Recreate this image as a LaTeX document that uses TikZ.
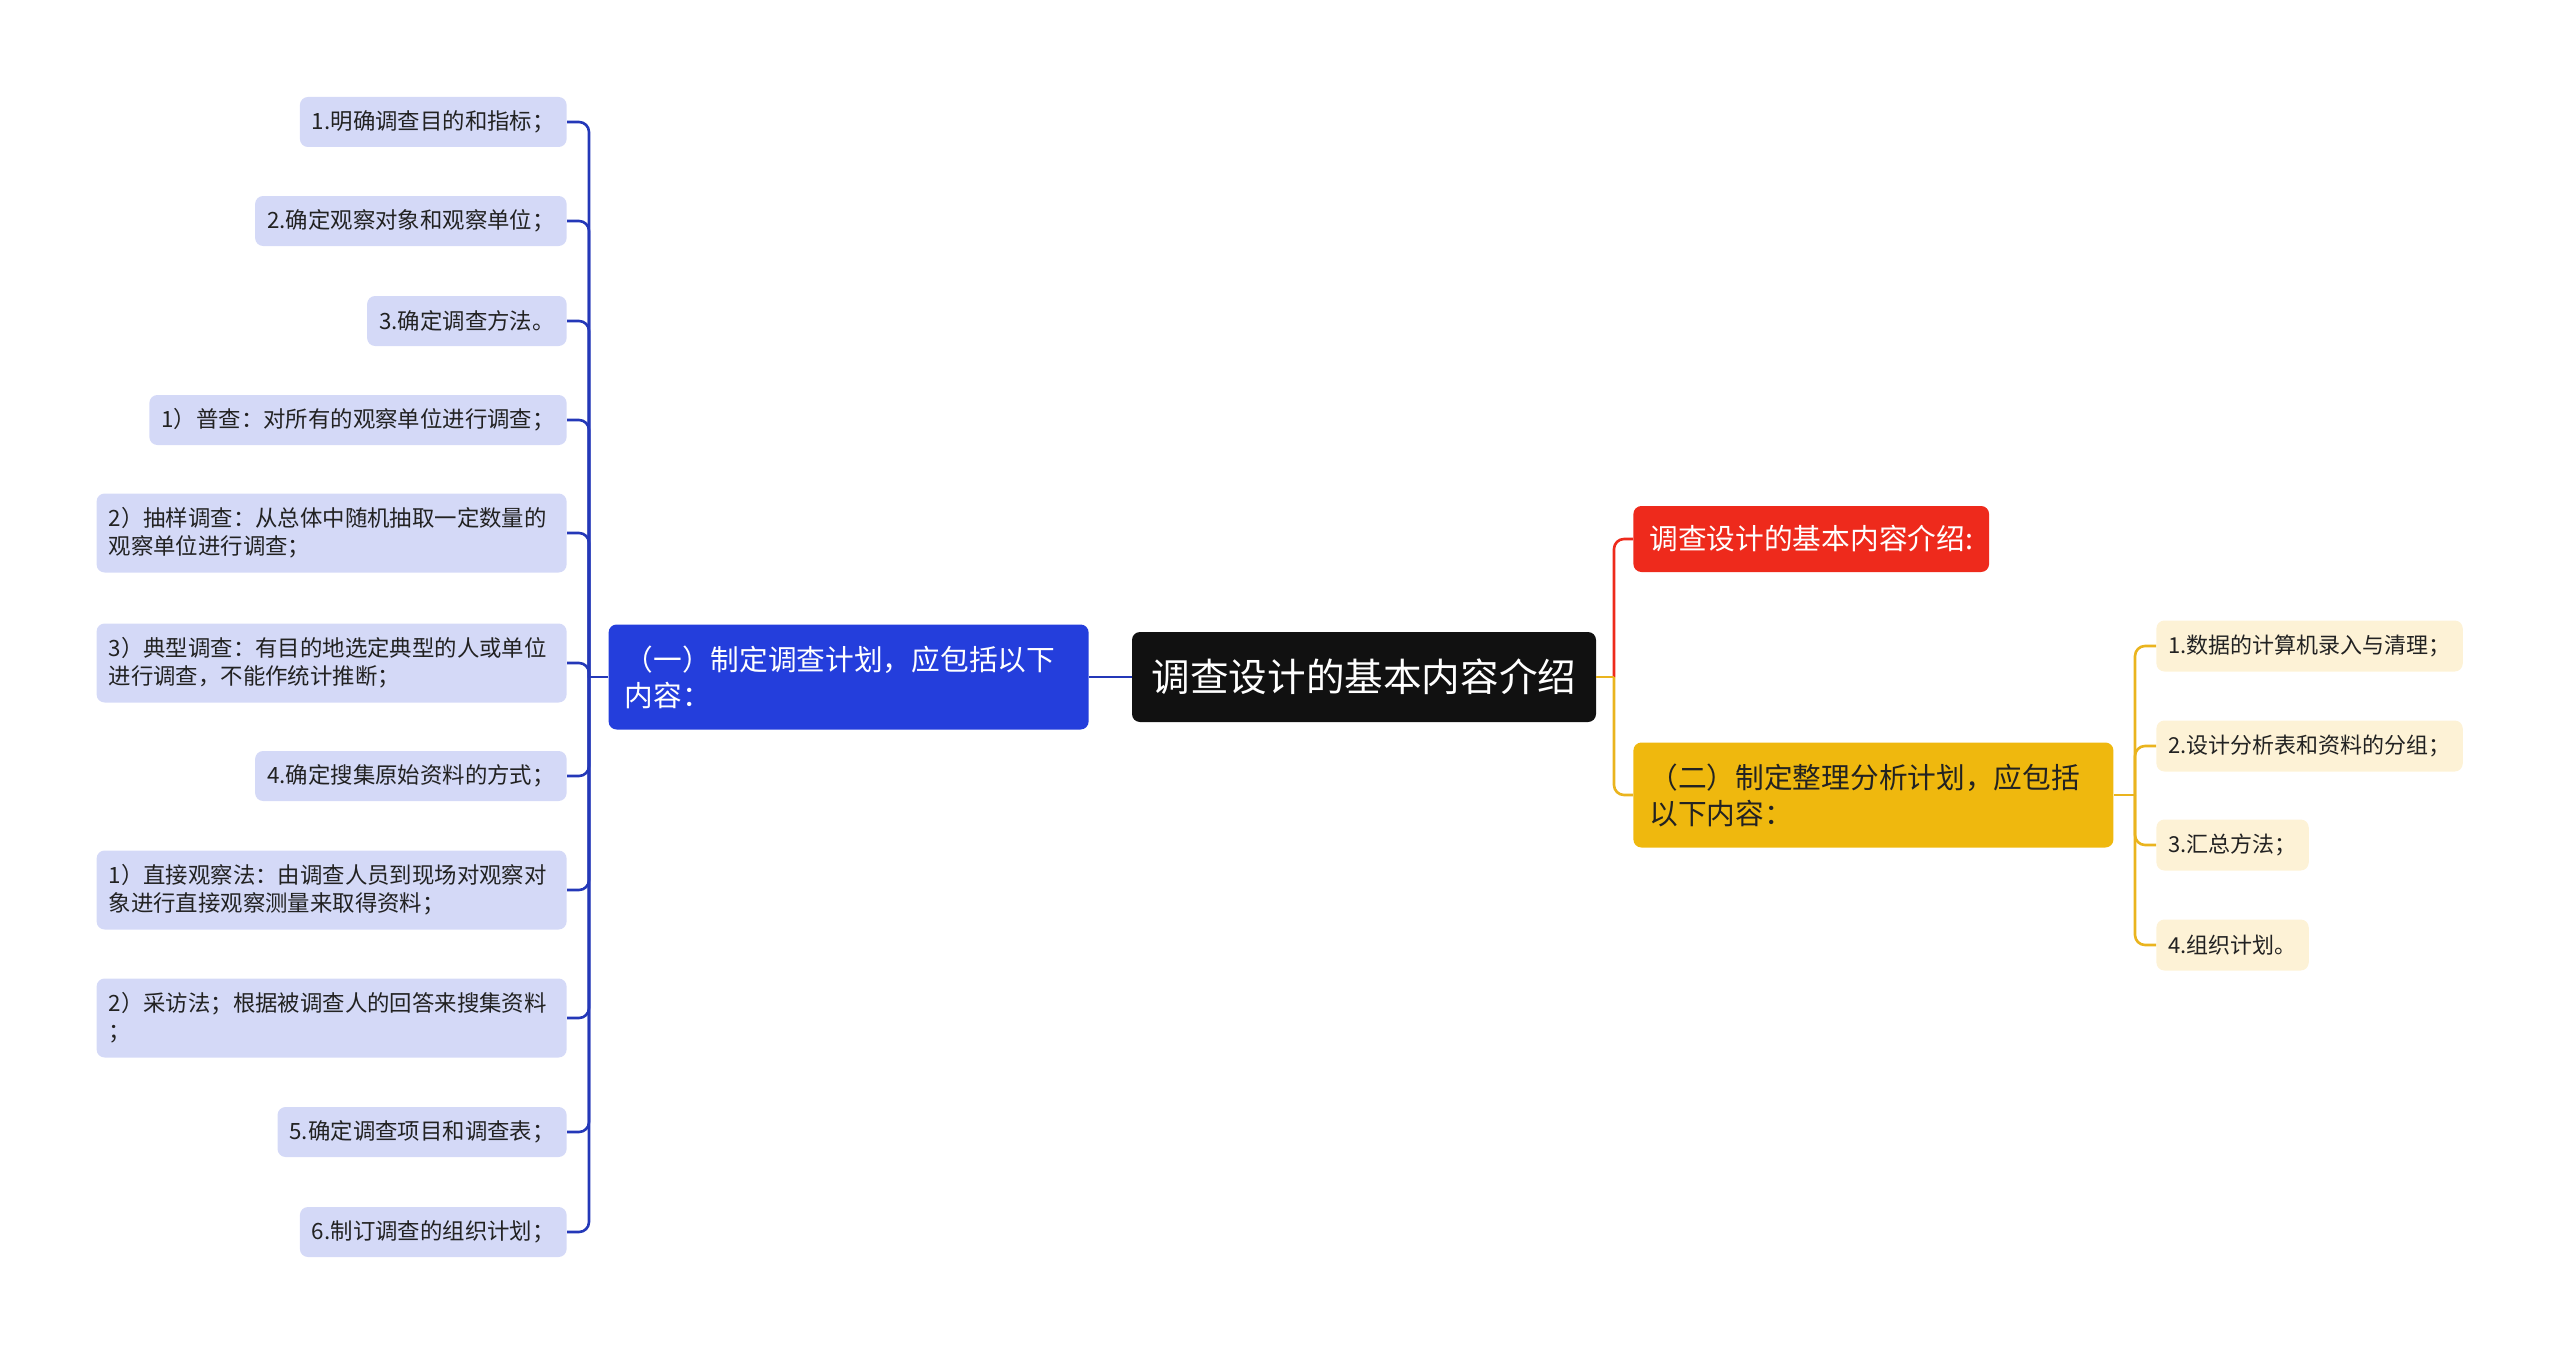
\documentclass[tikz,border=0pt]{standalone}
\usepackage{fontspec}
\setmainfont{Noto Sans CJK SC}
\usepackage{tikz}

\definecolor{rootblack}{RGB}{17,17,17}
\definecolor{planblue}{RGB}{36,62,220}
\definecolor{planlight}{RGB}{212,217,247}
\definecolor{linkblue}{RGB}{36,56,184}
\definecolor{introred}{RGB}{238,42,28}
\definecolor{arryellow}{RGB}{239,184,14}
\definecolor{arrlight}{RGB}{253,242,214}
\definecolor{linkyellow}{RGB}{234,180,30}
\definecolor{leaftext}{RGB}{34,34,34}

\begin{document}
\begin{tikzpicture}[x=0.5pt, y=-0.5pt,
  box/.style={rounded corners=4pt, inner xsep=6pt, inner ysep=0pt},
  leftleaf/.style={box, fill=planlight, text=leaftext, anchor=east,
    font=\fontsize{11.2pt}{14pt}\selectfont, minimum height=25pt},
  leftwide/.style={leftleaf, align=left, text width=223pt, minimum height=39.5pt},
  rightleaf/.style={box, fill=arrlight, text=leaftext, anchor=west,
    font=\fontsize{11pt}{14pt}\selectfont, minimum height=25.5pt},
  branch/.style={box, inner xsep=8pt, align=left, text width=224pt,
    font=\fontsize{14.35pt}{18pt}\selectfont, minimum height=52.5pt},
  bluelink/.style={draw=linkblue, line width=1.3pt, rounded corners=5pt},
  redlink/.style={draw=introred, line width=1.3pt, rounded corners=5pt},
  yellowlink/.style={draw=linkyellow, line width=1.3pt, rounded corners=5pt}]

\useasboundingbox (0,0) rectangle (2560,1354);

% centre
\node[box, fill=rootblack, text=white, font=\fontsize{19.3pt}{23pt}\selectfont,
  minimum width=232pt, minimum height=45pt] (root) at (1364,677) {调查设计的基本内容介绍};

% left branch
\node[branch, fill=planblue, text=white, anchor=east] (plan) at (1089,677)
  {（一）制定调查计划，应包括以下\\内容：};

\node[leftleaf] (goal) at (567,122) {1.明确调查目的和指标；};
\node[leftleaf] (object) at (567,221) {2.确定观察对象和观察单位；};
\node[leftleaf] (method) at (567,321) {3.确定调查方法。};
\node[leftleaf] (census) at (567,420) {1）普查：对所有的观察单位进行调查；};
\node[leftwide] (sample) at (567,533) {2）抽样调查：从总体中随机抽取一定数量的\\观察单位进行调查；};
\node[leftwide] (typical) at (567,663) {3）典型调查：有目的地选定典型的人或单位\\进行调查，不能作统计推断；};
\node[leftleaf] (collect) at (567,776) {4.确定搜集原始资料的方式；};
\node[leftwide] (observe) at (567,890) {1）直接观察法：由调查人员到现场对观察对\\象进行直接观察测量来取得资料；};
\node[leftwide] (interview) at (567,1018) {2）采访法；根据被调查人的回答来搜集资料\\；};
\node[leftleaf] (items) at (567,1132) {5.确定调查项目和调查表；};
\node[leftleaf] (organize) at (567,1232) {6.制订调查的组织计划；};

\coordinate (lj) at (589,677);
\draw[bluelink] (plan.west) -- (root.west -| lj);
\draw[bluelink] (plan.east) -- (root.west);
\draw[bluelink] (lj) |- (goal.east);
\draw[bluelink] (lj) |- (object.east);
\draw[bluelink] (lj) |- (method.east);
\draw[bluelink] (lj) |- (census.east);
\draw[bluelink] (lj) |- (sample.east);
\draw[bluelink] (lj) |- (typical.east);
\draw[bluelink] (lj) |- (collect.east);
\draw[bluelink] (lj) |- (observe.east);
\draw[bluelink] (lj) |- (interview.east);
\draw[bluelink] (lj) |- (items.east);
\draw[bluelink] (lj) |- (organize.east);

% right branch
\node[box, fill=introred, text=white, inner xsep=8pt, anchor=west,
  font=\fontsize{14.35pt}{18pt}\selectfont, minimum height=33pt] (intro) at (1633,539)
  {调查设计的基本内容介绍:};
\node[branch, fill=arryellow, text=leaftext, anchor=west] (arr) at (1633,795)
  {（二）制定整理分析计划，应包括\\以下内容：};

\node[rightleaf] (entry) at (2156,646) {1.数据的计算机录入与清理；};
\node[rightleaf] (tables) at (2156,746) {2.设计分析表和资料的分组；};
\node[rightleaf] (summary) at (2156,845) {3.汇总方法；};
\node[rightleaf] (orgplan) at (2156,945) {4.组织计划。};

\coordinate (rj) at (1614,677);
\draw[redlink] (rj) |- (intro.west);
\draw[yellowlink] (root.east) -- (rj);
\draw[yellowlink] (rj) |- (arr.west);

\coordinate (yj) at (2135,795);
\draw[yellowlink] (arr.east) -- (yj);
\draw[yellowlink] (yj) |- (entry.west);
\draw[yellowlink] (yj) |- (tables.west);
\draw[yellowlink] (yj) |- (summary.west);
\draw[yellowlink] (yj) |- (orgplan.west);

\end{tikzpicture}
\end{document}
